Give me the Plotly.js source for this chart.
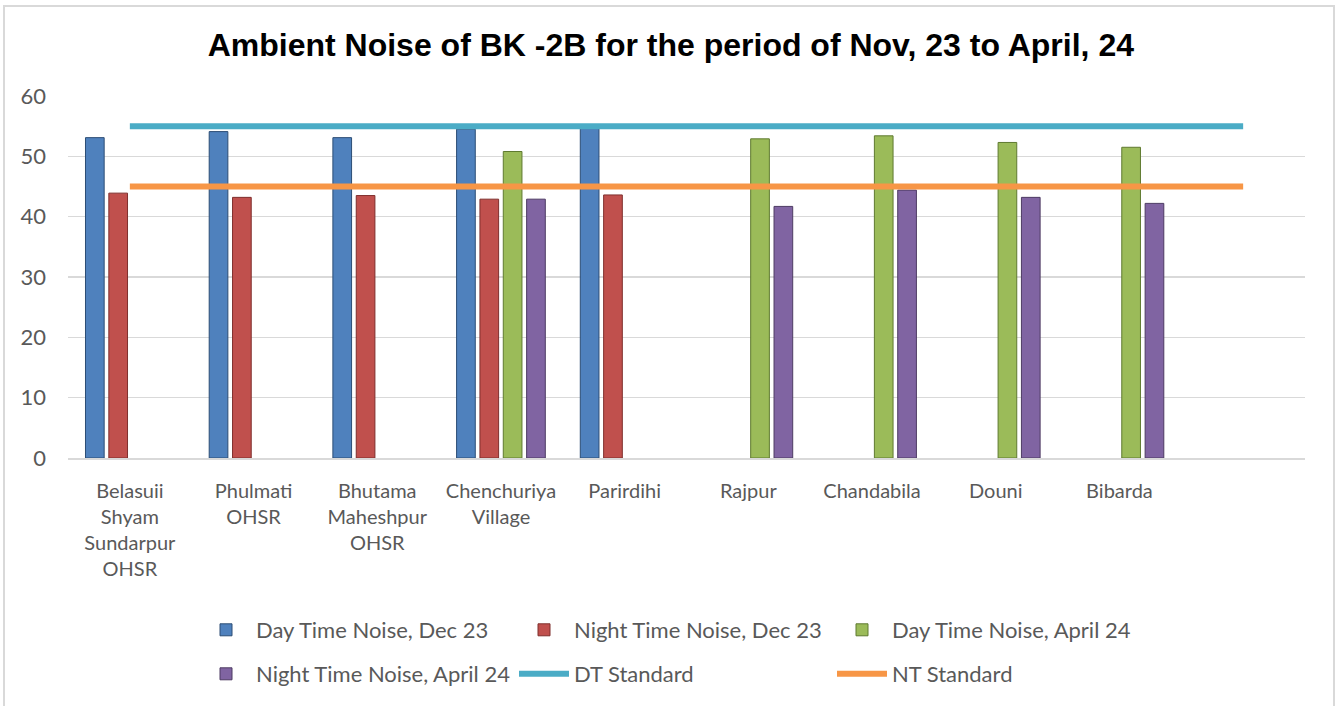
<!DOCTYPE html>
<html>
<head>
<meta charset="utf-8">
<script src="https://cdn.plot.ly/plotly-3.0.1.min.js"></script>
<style>html,body{margin:0;padding:0;background:#fff;}#chart{width:1343px;height:706px;}</style>
</head>
<body>
<div id="chart"></div>
<script>
const categories = ["Belasuii Shyam Sundarpur OHSR", "Phulmati OHSR", "Bhutama Maheshpur OHSR", "Chenchuriya Village", "Parirdihi", "Rajpur", "Chandabila", "Douni", "Bibarda", " "];
const tickLabels = ["Belasuii<br>Shyam<br>Sundarpur<br>OHSR", "Phulmati<br>OHSR", "Bhutama<br>Maheshpur<br>OHSR", "Chenchuriya<br>Village", "Parirdihi", "Rajpur", "Chandabila", "Douni", "Bibarda", " "];
const dayDec23 =   [53.1, 54.1, 53.1, 54.5, 54.6, null, null, null, null, null];
const nightDec23 = [43.9, 43.2, 43.5, 42.9, 43.6, null, null, null, null, null];
const dayApr24 =   [null, null, null, 50.8, null, 52.9, 53.4, 52.3, 51.5, null];
const nightApr24 = [null, null, null, 42.9, null, 41.7, 44.4, 43.2, 42.2, null];
const dtStandard = [55, 55, 55, 55, 55, 55, 55, 55, 55, 55];
const ntStandard = [45, 45, 45, 45, 45, 45, 45, 45, 45, 45];

const FONT = "Lato, 'Open Sans', sans-serif";
const TXT = "#595959";

function bar(name, y, color, line, legend) {
  return {type: "bar", name: name, x: categories, y: y, legend: legend,
    marker: {color: color, line: {color: line, width: 1}}, hoverinfo: "y+name"};
}
const traces = [
  bar("Day Time Noise, Dec 23", dayDec23, "#4f81bd", "#2c4d75", "legend"),
  bar("Night Time Noise, Dec 23", nightDec23, "#c0504d", "#7f2f2d", "legend"),
  bar("Day Time Noise, April 24", dayApr24, "#9bbb59", "#5f7a30", "legend"),
  bar("Night Time Noise, April 24", nightApr24, "#8064a2", "#4d3b63", "legend2"),
  {type: "scatter", mode: "lines", name: "DT Standard", x: categories, y: dtStandard, legend: "legend2",
    line: {color: "#4bacc6", width: 6}},
  {type: "scatter", mode: "lines", name: "NT Standard", x: categories, y: ntStandard, legend: "legend2",
    line: {color: "#f79646", width: 6}}
];

const plotW = 1237, plotH = 362;
const px = v => (v - 68) / plotW;
const py = v => (458 - v) / plotH;
const cx = v => v / 1343;
const cy = v => 1 - v / 706;

const legendCommon = {orientation: "h", xref: "container", yref: "container", xanchor: "left", yanchor: "middle",
  entrywidth: 253, entrywidthmode: "pixels", itemwidth: 50, font: {family: FONT, size: 22, color: TXT},
  traceorder: "normal", bgcolor: "rgba(0,0,0,0)"};

const layout = {
  width: 1343, height: 706,
  margin: {l: 68, r: 38, t: 96, b: 248},
  paper_bgcolor: "#fff", plot_bgcolor: "#fff",
  font: {family: FONT, color: TXT, size: 20},
  title: {text: "<b>Ambient Noise of BK -2B for the period of Nov, 23 to April, 24</b>",
    font: {family: "'Liberation Sans', Arial, sans-serif", size: 32, color: "#000"},
    x: 0.4995, xanchor: "center", y: 1 - 45 / 706, yanchor: "middle", yref: "container"},
  barmode: "group", bargap: 0.245, bargroupgap: 0.2,
  xaxis: {type: "category", categoryorder: "array", categoryarray: categories,
    tickvals: categories, ticktext: tickLabels, showline: true, linecolor: "#d9d9d9", linewidth: 2,
    showgrid: false, ticks: "", tickfont: {family: FONT, size: 20, color: TXT}, ticklabelstandoff: 14,
    automargin: false},
  yaxis: {range: [0, 60], dtick: 10, showgrid: true, gridcolor: "#d9d9d9", gridwidth: 1.5,
    zeroline: false, showline: false, ticks: "", tickfont: {family: FONT, size: 22, color: TXT},
    ticklabelstandoff: 21, automargin: false},
  legend: Object.assign({}, legendCommon, {x: cx(196), y: cy(630)}),
  legend2: Object.assign({}, legendCommon, {x: cx(196), y: cy(674)}),
  shapes: [{type: "rect", xref: "paper", yref: "paper", x0: px(4), x1: px(1334), y0: py(6), y1: py(720),
    line: {color: "#d9d9d9", width: 2}, fillcolor: "rgba(0,0,0,0)", layer: "below"}]
};

Plotly.newPlot("chart", traces, layout, {displayModeBar: false, staticPlot: true});
</script>
</body>
</html>
